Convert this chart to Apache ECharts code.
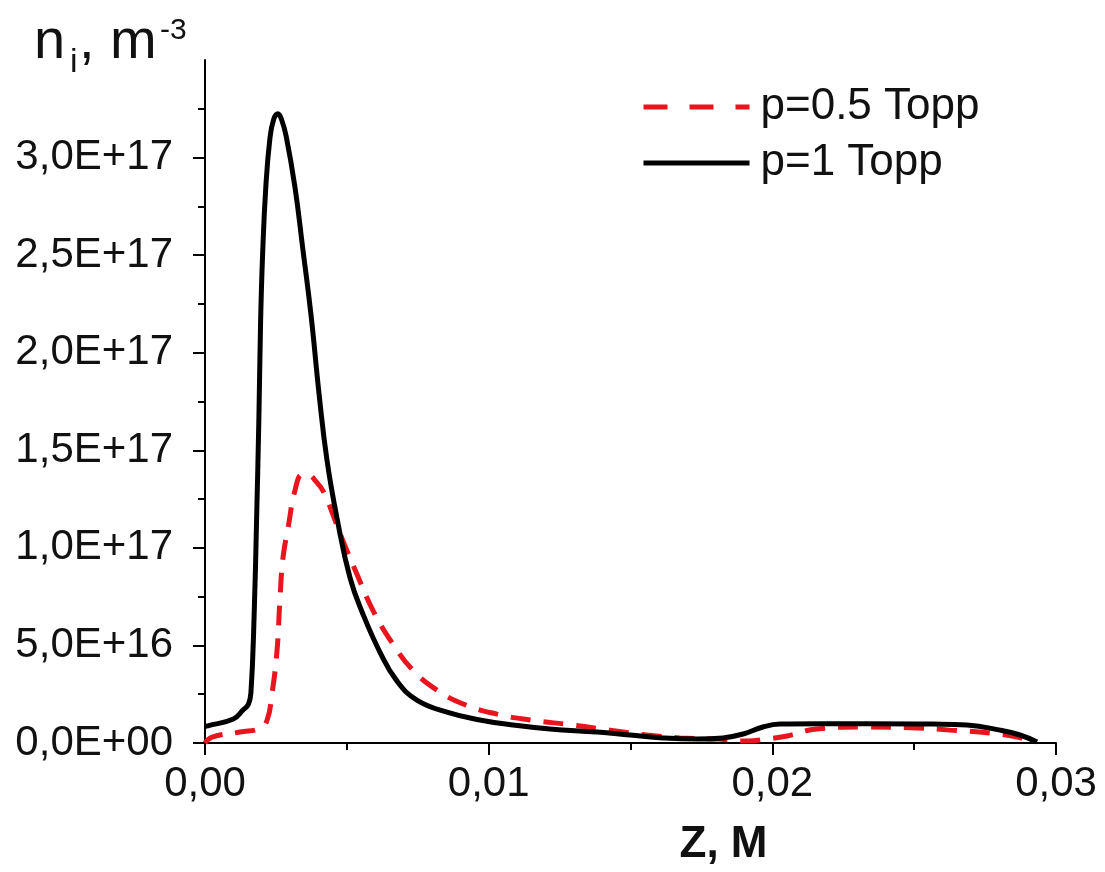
<!DOCTYPE html>
<html>
<head>
<meta charset="utf-8">
<script src="https://cdn.jsdelivr.net/npm/echarts@6/dist/echarts.min.js"></script>
<style>
html,body{margin:0;padding:0;background:#fff;}
#c{width:1105px;height:872px;}
</style>
</head>
<body>
<div id="c"></div>
<script>
// ---- data (z in metres, n in units of 1E+17 m^-3) ----
var UNIT = 1e17;
var xTicks = [0, 0.01, 0.02, 0.03];
var yTicks = [0, 0.5, 1.0, 1.5, 2.0, 2.5, 3.0];
var seriesNames = ['p=0.5 Topp', 'p=1 Topp'];

var zP05 = [0, 0.00025, 0.00123, 0.00194, 0.00219, 0.00236, 0.00254, 0.00264, 0.00275, 0.00293, 0.00317, 0.00342, 0.0036, 0.00395, 0.00423, 0.00451, 0.00486, 0.00536, 0.00592, 0.00663, 0.00733, 0.00818, 0.0091, 0.01029, 0.01146, 0.01297, 0.01428, 0.01558, 0.01675, 0.01805, 0.01911, 0.01981, 0.02052, 0.02157, 0.02309, 0.0251, 0.02626, 0.02767, 0.02863, 0.02919];
var nP05 = [0.0, 0.03, 0.056, 0.075, 0.118, 0.25, 0.475, 0.731, 0.95, 1.104, 1.293, 1.375, 1.375, 1.334, 1.273, 1.17, 1.037, 0.864, 0.68, 0.506, 0.373, 0.271, 0.2, 0.148, 0.118, 0.092, 0.066, 0.041, 0.026, 0.02, 0.01, 0.02, 0.036, 0.072, 0.082, 0.077, 0.066, 0.051, 0.031, 0.005];

var zP1 = [0, 0.0001, 0.001, 0.00134, 0.00153, 0.00162, 0.00173, 0.00182, 0.00190, 0.00196, 0.00203, 0.00214, 0.00229, 0.00243, 0.00257, 0.00271, 0.00286, 0.00317, 0.00345, 0.00374, 0.00402, 0.00430, 0.00465, 0.00511, 0.00557, 0.00617, 0.00677, 0.00747, 0.00853, 0.00969, 0.01086, 0.01216, 0.01382, 0.01498, 0.01615, 0.01734, 0.01826, 0.01897, 0.01967, 0.02027, 0.02168, 0.02334, 0.02566, 0.02686, 0.02803, 0.02873, 0.02933];
var nP1 = [0.085, 0.088, 0.123, 0.169, 0.199, 0.26, 0.644, 1.155, 1.666, 2.16, 2.50, 2.84, 3.10, 3.20, 3.225, 3.19, 3.11, 2.85, 2.53, 2.19, 1.79, 1.45, 1.155, 0.848, 0.66, 0.465, 0.317, 0.22, 0.158, 0.118, 0.092, 0.072, 0.056, 0.041, 0.026, 0.02, 0.026, 0.046, 0.082, 0.097, 0.099, 0.099, 0.097, 0.092, 0.066, 0.041, 0.005];

function pairs(zs, ns) {
  var out = [];
  for (var i = 0; i < zs.length; i++) out.push([zs[i], ns[i] * UNIT]);
  return out;
}
function fmtY(v) {
  if (v === 0) return '0,0E+00';
  var e = Math.floor(Math.log10(v) + 1e-9);
  var m = v / Math.pow(10, e);
  var es = (e < 10 ? '0' : '') + e;
  return m.toFixed(1).replace('.', ',') + 'E+' + es;
}
function fmtX(v) { return v.toFixed(2).replace('.', ','); }

var FONT = 'Liberation Sans, Arial, Helvetica, sans-serif';
var chart = echarts.init(document.getElementById('c'), null, {renderer: 'canvas'});
var axisLine = {show: true, lineStyle: {color: '#000', width: 2}};
chart.setOption({
  animation: false,
  backgroundColor: '#fff',
  grid: {left: 205, right: 49, top: 60, bottom: 126, containLabel: false},
  legend: {
    orient: 'vertical', left: 636, top: 80, itemWidth: 106, itemHeight: 20, itemGap: 12,
    textStyle: {fontFamily: FONT, fontSize: 44, color: '#111', padding: [0, 0, 0, 6]},
    itemStyle: {opacity: 0},
    data: [
      {name: seriesNames[0], lineStyle: {type: [24, 22], width: 5}, itemStyle: {opacity: 0}},
      {name: seriesNames[1], lineStyle: {width: 5}, itemStyle: {opacity: 0}}
    ]
  },
  xAxis: {
    type: 'value', min: 0, max: 0.03, interval: 0.01,
    axisLine: axisLine,
    axisTick: {show: true, length: 12, lineStyle: {color: '#000', width: 2}},
    minorTick: {show: true, splitNumber: 2, length: 7, lineStyle: {color: '#000', width: 2}},
    splitLine: {show: false},
    axisLabel: {formatter: fmtX, fontFamily: FONT, fontSize: 42, color: '#111', margin: 20},
    name: 'Z, M', nameLocation: 'middle', nameGap: 80,
    nameTextStyle: {fontFamily: FONT, fontSize: 44, fontWeight: 'bold', color: '#111', padding: [0, 0, 0, 186]}
  },
  yAxis: {
    type: 'value', min: 0, max: 3.5 * UNIT, interval: 0.5 * UNIT,
    axisLine: axisLine,
    axisTick: {show: true, length: 12, lineStyle: {color: '#000', width: 2},
      customValues: yTicks.map(function (v) { return v * UNIT; })},
    minorTick: {show: true, splitNumber: 2, length: 7, lineStyle: {color: '#000', width: 2}},
    splitLine: {show: false},
    axisLabel: {formatter: fmtY, fontFamily: FONT, fontSize: 42, color: '#111', margin: 32,
      customValues: yTicks.map(function (v) { return v * UNIT; })}
  },
  graphic: [
    {type: 'text', x: 34, y: 43, style: {text: 'n', font: '56px ' + FONT, fill: '#111', verticalAlign: 'middle'}},
    {type: 'text', x: 70, y: 63, style: {text: 'i', font: '34px ' + FONT, fill: '#111', verticalAlign: 'middle'}},
    {type: 'text', x: 79, y: 43, style: {text: ', m', font: '56px ' + FONT, fill: '#111', verticalAlign: 'middle'}},
    {type: 'text', x: 160, y: 31, style: {text: '-3', font: '30px ' + FONT, fill: '#111', verticalAlign: 'middle'}}
  ],
  series: [
    {name: seriesNames[0], type: 'line', data: pairs(zP05, nP05), showSymbol: false, symbol: 'none',
      smooth: 0.45, lineStyle: {color: '#e8141e', width: 5, type: [20, 13]}, itemStyle: {color: '#e8141e'}, z: 2},
    {name: seriesNames[1], type: 'line', data: pairs(zP1, nP1), showSymbol: false, symbol: 'none',
      smooth: 0.45, lineStyle: {color: '#000', width: 5}, itemStyle: {color: '#000'}, z: 3}
  ]
});
</script>
</body>
</html>
